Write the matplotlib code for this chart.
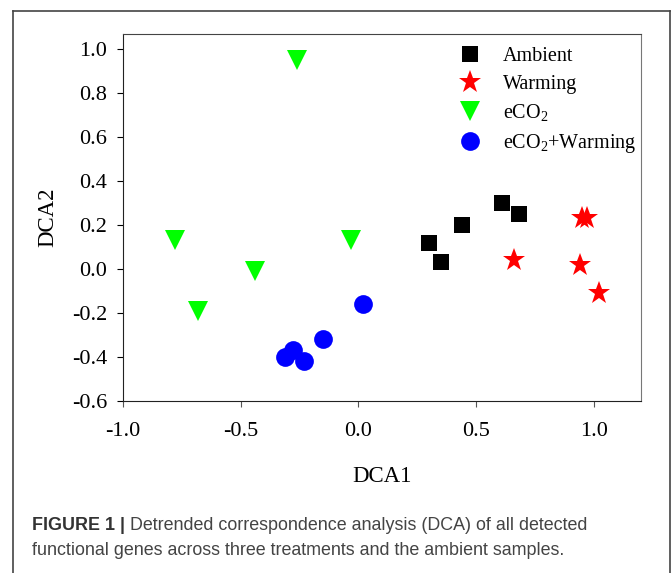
import matplotlib
matplotlib.use("Agg")
import matplotlib.pyplot as plt
from matplotlib.lines import Line2D

plt.rcParams['font.family'] = ['Liberation Serif', 'DejaVu Serif']
plt.rcParams['mathtext.default'] = 'regular'

# DCA scores
ambient_x = [0.30, 0.35, 0.44, 0.61, 0.68]
ambient_y = [0.12, 0.03, 0.20, 0.30, 0.25]
warming_x = [0.66, 0.95, 0.97, 0.94, 1.02]
warming_y = [0.04, 0.23, 0.23, 0.02, -0.11]
eco2_x = [-0.26, -0.78, -0.44, -0.68, -0.03]
eco2_y = [0.95, 0.13, -0.01, -0.19, 0.13]
both_x = [0.02, -0.15, -0.28, -0.31, -0.23]
both_y = [-0.16, -0.32, -0.37, -0.40, -0.42]

labels = ['Ambient', 'Warming', 'eCO$_2$', 'eCO$_2$+Warming']
xticks = [-1.0, -0.5, 0.0, 0.5, 1.0]
yticks = [-0.6, -0.4, -0.2, 0.0, 0.2, 0.4, 0.6, 0.8, 1.0]

fig = plt.figure(figsize=(6.72, 5.73), dpi=100)
ax = fig.add_axes([0.183, 0.300, 0.771, 0.641])

ax.plot(ambient_x, ambient_y, 's', color='black', ms=11.5, mew=0, label=labels[0])
ax.plot(warming_x, warming_y, '*', color='red', ms=17, mew=0, label=labels[1])
ax.plot(eco2_x, eco2_y, 'v', color='#00ff00', ms=14.5, mew=0, label=labels[2])
ax.plot(both_x, both_y, 'o', color='blue', ms=13.5, mew=0, label=labels[3])

ax.set_xlim(-1.0, 1.2)
ax.set_ylim(-0.6, 1.068)
ax.set_xticks(xticks)
ax.set_yticks(yticks)
ax.set_xticklabels([f"{v:.1f}" for v in xticks])
ax.set_yticklabels([f"{v:.1f}" for v in yticks])
ax.tick_params(axis='y', direction='out', length=4.5, width=0.8, pad=7, labelsize=16)
ax.tick_params(axis='x', direction='out', length=4, width=0.8, pad=11, labelsize=16,
               color='#555555')
ax.set_xlabel('DCA1', fontsize=16.5, labelpad=18)
ax.set_ylabel('DCA2', fontsize=16.5, labelpad=10)
for side in ['left', 'bottom']:
    ax.spines[side].set_color('#222222')
ax.spines['top'].set_color('#444444')
ax.spines['right'].set_color('#777777')

ax.legend(loc='upper right', bbox_to_anchor=(1.006, 0.985), frameon=False, fontsize=14.5,
          handletextpad=0.6, labelspacing=0.42, borderaxespad=0.1, borderpad=0.3,
          numpoints=1)

# outer panel border
fig.add_artist(Line2D([13/672, 13/672], [0, 1 - 11/573], color='#444444', lw=1.2))
fig.add_artist(Line2D([13/672, 670/672], [1 - 11/573, 1 - 11/573], color='#444444', lw=1.2))
fig.add_artist(Line2D([670/672, 670/672], [0, 1 - 11/573], color='#444444', lw=1.2))

cap_font = ['Liberation Sans Narrow', 'Liberation Sans', 'DejaVu Sans']
t1 = fig.text(32/672, 1 - 530/573, 'FIGURE 1 |', family=cap_font, weight='bold',
              fontsize=12.9, color='#333333', va='baseline')
ax.annotate(' Detrended correspondence analysis (DCA) of all detected',
            xy=(1, 0), xycoords=t1, va='bottom', ha='left',
            family=cap_font, fontsize=12.9, color='#444444')
fig.text(32/672, 1 - 555/573, 'functional genes across three treatments and the ambient samples.',
         family=cap_font, fontsize=12.9, color='#444444', va='baseline')

fig.savefig('out.png', dpi=100)
